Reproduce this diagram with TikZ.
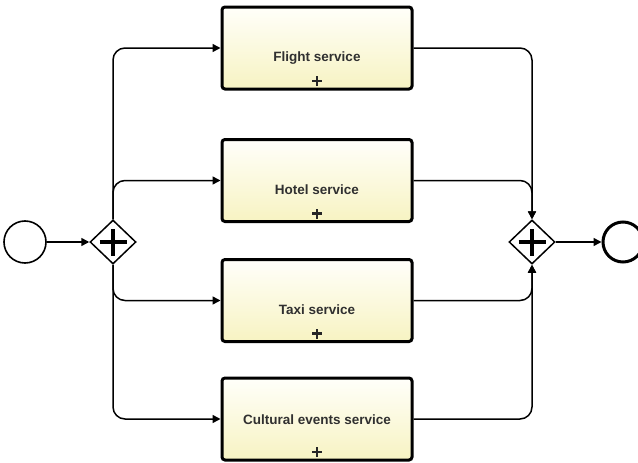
\documentclass[tikz,border=0pt]{standalone}
\usepackage{fontspec}
\setmainfont{Liberation Sans}
\usetikzlibrary{shapes.geometric,arrows.meta}
\definecolor{txtgray}{HTML}{303030}
\definecolor{boxtop}{HTML}{FFFFFA}
\definecolor{boxbot}{HTML}{F7F3C2}
\tikzset{
  task/.style={draw=black, line width=3pt, rounded corners=3pt,
    minimum width=190pt, minimum height=82pt, inner sep=0pt,
    top color=boxtop, bottom color=boxbot, shading angle=0},
  tasklabel/.style={font=\bfseries\fontsize{13.5}{15}\selectfont, text=txtgray},
  gateway/.style={diamond, draw=black, line width=1.5pt, fill=white,
    minimum width=46pt, minimum height=44pt, inner sep=0pt, aspect=1},
  startev/.style={circle, draw=black, line width=1.6pt, minimum size=42pt, inner sep=0pt},
  endev/.style={circle, draw=black, line width=3pt, minimum size=40pt, inner sep=0pt},
  flow/.style={draw=black, line width=1.5pt, rounded corners=12pt,
    -{Triangle[length=8pt,width=8pt]}},
}
\newcommand{\subplus}[1]{%
  \draw[line width=2.6pt, black!85] ([yshift=9.5pt]#1.south) ++(-5pt,0) -- ++(10pt,0);
  \draw[line width=2.6pt, black!85] ([yshift=4.5pt]#1.south) -- ++(0,10pt);}
\newcommand{\gwplus}[1]{%
  \draw[line width=4pt] ([xshift=-13.5pt]#1.center) -- ([xshift=13.5pt]#1.center);
  \draw[line width=4pt] ([yshift=-13.5pt]#1.center) -- ([yshift=13.5pt]#1.center);}
\begin{document}
\begin{tikzpicture}[x=1pt,y=-1pt]
\useasboundingbox (0,0) rectangle (638,463);
\node[startev] (start) at (25,242) {};
\node[gateway] (split) at (113,242) {};
\node[gateway] (join) at (532,242) {};
\node[endev] (end) at (623,242) {};

\node[task] (flight) at (317,48) {};
\node[task] (hotel) at (317,180.5) {};
\node[task] (taxi) at (317,300.5) {};
\node[task] (cultural) at (317,419) {};

\node[tasklabel] (tflight) at ([yshift=-10pt]flight.center) {Flight service};
\node[tasklabel] (thotel) at ([yshift=-9pt]hotel.center) {Hotel service};
\node[tasklabel] (ttaxi) at ([yshift=-9pt]taxi.center) {Taxi service};
\node[tasklabel] (tcultural) at ([yshift=-1pt]cultural.center) {Cultural events service};

\subplus{flight}
\subplus{hotel}
\subplus{taxi}
\subplus{cultural}
\gwplus{split}
\gwplus{join}

\draw[flow] (start) -- (split);
\draw[flow] (split.north) |- (flight.west);
\draw[flow] (split.north) |- (hotel.west);
\draw[flow] (split.south) |- (taxi.west);
\draw[flow] (split.south) |- (cultural.west);
\draw[flow] (flight.east) -| (join.north);
\draw[flow] (hotel.east) -| (join.north);
\draw[flow] (taxi.east) -| (join.south);
\draw[flow] (cultural.east) -| (join.south);
\draw[flow] (join) -- (end);
\end{tikzpicture}
\end{document}
